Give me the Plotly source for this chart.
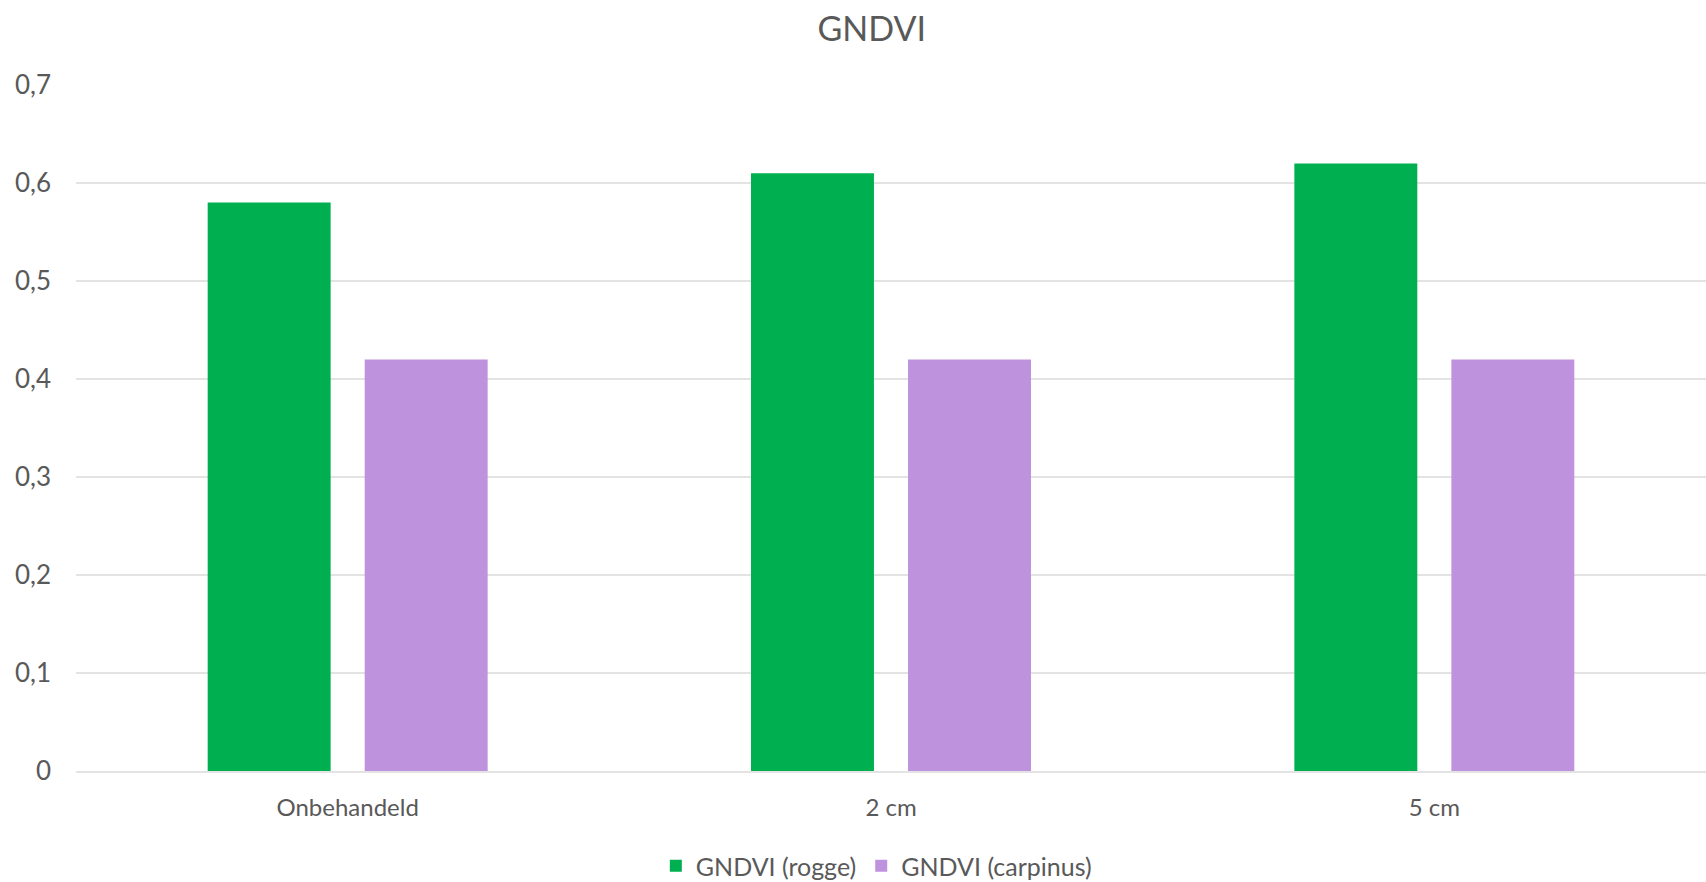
import plotly.graph_objects as go

# GNDVI per behandeling
categories = ["Onbehandeld", "2 cm", "5 cm"]
rogge = [0.58, 0.61, 0.62]
carpinus = [0.42, 0.42, 0.42]
y_ticks = [0, 0.1, 0.2, 0.3, 0.4, 0.5, 0.6, 0.7]
y_tick_labels = ["0", "0,1", "0,2", "0,3", "0,4", "0,5", "0,6", "0,7"]

font_family = "Lato, 'Open Sans', sans-serif"
text_color = "#595959"
grid_color = "#e3e3e3"

fig = go.Figure()
fig.add_trace(go.Bar(name="GNDVI (rogge)", x=categories, y=rogge,
                     marker=dict(color="#00b050", line=dict(width=0))))
fig.add_trace(go.Bar(name="GNDVI (carpinus)", x=categories, y=carpinus,
                     marker=dict(color="#bf92de", line=dict(width=0))))

fig.update_layout(
    width=1706, height=882,
    margin=dict(l=76, r=0, t=85, b=111, autoexpand=False),
    paper_bgcolor="white", plot_bgcolor="white",
    barmode="group", bargap=0.422, bargroupgap=0.217,
    font=dict(family=font_family, color=text_color, size=24),
    title=dict(text="GNDVI", x=0.511, xref="container", xanchor="center",
               y=0.967, yref="container", yanchor="middle",
               font=dict(size=34, color=text_color, family=font_family)),
    legend=dict(orientation="h", x=0.491, xanchor="center",
                y=0.018, yref="container", yanchor="middle",
                font=dict(size=25, color=text_color),
                itemwidth=30, tracegroupgap=0),
    showlegend=True,
)
fig.update_xaxes(showgrid=False, showline=True, linecolor=grid_color, linewidth=2,
                 ticks="", ticklabelstandoff=14, automargin=False,
                 tickfont=dict(size=24, color=text_color))
fig.update_yaxes(range=[0, 0.7], tickvals=y_ticks, ticktext=y_tick_labels,
                 showgrid=True, gridcolor=grid_color, gridwidth=2,
                 zeroline=False, showline=False, ticks="", ticklabelstandoff=24,
                 automargin=False,
                 tickfont=dict(size=26, color=text_color))

fig.write_html("out.html")
